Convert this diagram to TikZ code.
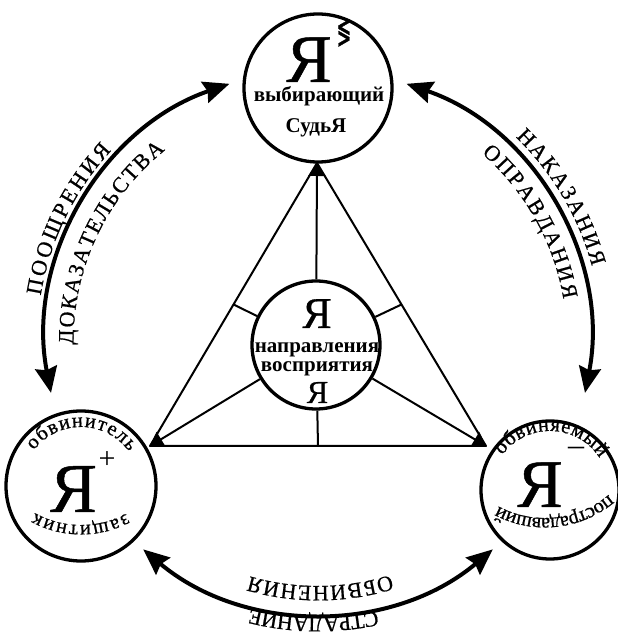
\documentclass[tikz,border=0pt]{standalone}
\usepackage{fontspec}
\usepackage{graphicx}
\setmainfont{Liberation Serif}
\newfontfamily\heavy[FakeBold=0.7]{Liberation Serif}
\newfontfamily\symfont[FakeBold=1.2]{DejaVu Sans}
\usetikzlibrary{arrows.meta,calc}
\newdimen\arcW
\newcommand\fsArc{\heavy\fontsize{22}{24}\selectfont}
\newcommand\fsSmall{\heavy\fontsize{20.5}{22}\selectfont}
\newcommand\fsMid{\fontsize{21}{24}\selectfont\bfseries}
% #1 name prefix, #2 centre, #3 baseline radius, #4 angle of first letter, #5 angle of last letter, #6 font, #7 letters
\newcommand\ArcText[7]{%
  \gdef\arcTot{0}\gdef\arcN{1}\gdef\arcFirst{0}\gdef\arcLast{0}%
  \foreach \ch [count=\k] in {#7}{%
    \setbox0=\hbox{\pgfinterruptpicture#6\ch\endpgfinterruptpicture}\global\arcW=\wd0
    \pgfmathsetmacro\arcTmp{\arcTot+\the\arcW}%
    \xdef\arcTot{\arcTmp}%
    \pgfmathsetmacro\arcTmp{\the\arcW}%
    \xdef\arcLast{\arcTmp}%
    \ifnum\k=1 \xdef\arcFirst{\arcTmp}\fi
    \xdef\arcN{\k}%
  }%
  \pgfmathsetmacro\arcGap{((#4-(#5))*pi/180*#3-(\arcTot-0.5*\arcFirst-0.5*\arcLast))/(\arcN-1)}%
  \pgfmathsetmacro\arcStart{#4+0.5*\arcFirst/#3*180/pi}%
  \gdef\arcCum{0}%
  \foreach \ch [count=\k] in {#7}{%
    \setbox0=\hbox{\pgfinterruptpicture#6\ch\endpgfinterruptpicture}\global\arcW=\wd0
    \pgfmathsetmacro\ang{\arcStart-(\arcCum+0.5*\the\arcW)/#3*180/pi}%
    \node[rotate=\ang-90, anchor=base, inner sep=0pt, font=#6] (#1-\k) at ($(#2)+(\ang:#3)$) {\ch};
    \pgfmathsetmacro\arcTmp{\arcCum+\the\arcW+\arcGap}%
    \xdef\arcCum{\arcTmp}%
  }%
}
\tikzset{
  rolecirc/.style={circle, draw, line width=3.3pt, inner sep=0pt},
  tri/.style={line width=2pt, line join=round},
  spoke/.style={line width=2pt},
  vtip/.style={-{Triangle[length=13pt,width=17pt]}},
  bigarc/.style={line width=4pt, {Stealth[length=26pt,width=22pt,inset=3pt]}-{Stealth[length=26pt,width=22pt,inset=3pt]}},
  txt/.style={inner sep=0pt, anchor=base},
}
\begin{document}
\begin{tikzpicture}[x=1pt,y=1pt]
\useasboundingbox (0,0) rectangle (618,635);
\coordinate (C) at (318,294);
\coordinate (Lb) at (81,205);
\coordinate (Rb) at (545,216);
% role circles
\node[rolecirc, minimum size=148pt] (T) at (318,547) {};
\node[rolecirc, minimum size=150pt] (L) at (81,149) {};
\node[rolecirc, minimum size=138pt] (R) at (550,145) {};
\node[rolecirc, minimum size=128pt] (M) at (316,290) {};
% triangle
\coordinate (A) at (317,472);
\coordinate (B) at (150,189);
\coordinate (V) at (486,189);
\coordinate (mAB) at ($(A)!0.5!(B)$);
\coordinate (mAV) at ($(A)!0.5!(V)$);
\coordinate (mBV) at ($(B)!0.5!(V)$);
\draw[tri] (A) -- (B) -- (V) -- cycle;
\draw[spoke, vtip] (M) -- (A);
\draw[spoke, vtip] (M) -- (B);
\draw[spoke, vtip] (M) -- (V);
\draw[spoke] (M) -- (mAB);
\draw[spoke] (M) -- (mAV);
\draw[spoke] (M) -- (mBV);
% big arcs
\draw[bigarc] ($(C)+(191:272)$) arc[start angle=191, end angle=109, radius=272];
\draw[bigarc] ($(C)+(71:272)$) arc[start angle=71, end angle=-11, radius=272];
\draw[bigarc] ($(C)+(310:272)$) arc[start angle=310, end angle=230, radius=272];
% top circle text
\node[txt, font=\heavy\fontsize{68}{68}\selectfont] (TY) at (309,553) {Я};
\node[inner sep=0pt] (TS) at (344,602) {\scalebox{0.5}[1]{\symfont\fontsize{35}{35}\selectfont ≶}};
\node[txt, font=\fsMid] (T1) at (319,533) {выбирающий};
\node[txt, font=\fsMid] (T2) at (316,502) {СудьЯ};
% centre circle text
\node[txt, font=\heavy\fontsize{44}{44}\selectfont] (M0) at (317,307) {Я};
\node[txt, font=\fsMid] (M1) at (317,282) {направления};
\node[txt, font=\fsMid] (M2) at (317,263) {восприятия};
\node[txt, font=\heavy\fontsize{32}{32}\selectfont] (M3) at (317.5,232) {Я};
% left circle text
\node[txt, font=\heavy\fontsize{70}{70}\selectfont] (LY) at (73.5,123) {Я};
\node[inner sep=0pt, font=\fontsize{30}{30}\selectfont] (LS) at (107,175) {+};
\ArcText{lt}{L}{59}{138}{40}{\fsSmall}{о,б,в,и,н,и,т,е,л,ь}
\ArcText{lb}{Lb}{95}{296}{244}{\fsSmall}{з,а,щ,и,т,н,и,к}
% right circle text
\node[txt, font=\heavy\fontsize{68}{68}\selectfont] (RY) at (540,128) {Я};
\node[inner sep=0pt, font=\fontsize{32}{32}\selectfont] (RS) at (576,184) {–};
\ArcText{rt}{R}{59}{139}{38}{\fsSmall}{о,б,в,и,н,я,е,м,ы,й}
\ArcText{rb}{Rb}{99}{307}{245}{\fsSmall}{п,о,с,т,р,а,д,а,в,ш,и,й}
% arc labels
\ArcText{po}{C}{281}{169.1}{138.8}{\fsArc}{П,О,О,Щ,Р,Е,Н,И,Я}
\ArcText{do}{C}{244.5}{179.1}{130.5}{\fsArc}{Д,О,К,А,З,А,Т,Е,Л,Ь,С,Т,В,А}
\ArcText{na}{C}{284}{44.3}{16.7}{\fsArc}{Н,А,К,А,З,А,Н,И,Я}
\ArcText{op}{C}{249}{47.1}{11.3}{\fsArc}{О,П,Р,А,В,Д,А,Н,И,Я}
\ArcText{ob}{C}{245}{285.4}{255.5}{\fsArc}{О,Б,В,И,Н,Е,Н,И,Я}
\ArcText{st}{C}{276}{280.8}{257.2}{\fsArc}{С,Т,Р,А,Д,А,Н,И,Е}
\end{tikzpicture}
\end{document}
